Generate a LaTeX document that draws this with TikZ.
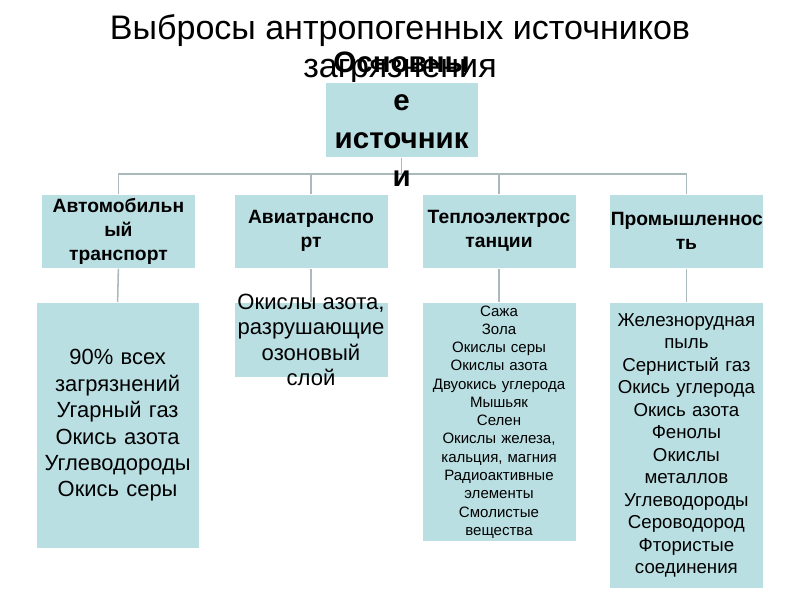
\documentclass[tikz,border=0pt]{standalone}
\usepackage{fontspec}
\setmainfont{Liberation Sans}
\usetikzlibrary{positioning}
\definecolor{boxfill}{HTML}{BADFE3}
\definecolor{linkcol}{HTML}{AABABC}
\begin{document}
\begin{tikzpicture}[
  box/.style={fill=boxfill, draw=white, line width=0.6pt, inner sep=1pt, align=center},
  head/.style={box, text width=3.78cm, minimum width=3.825cm, minimum height=1.85cm, font=\bfseries\fontsize{13.7}{17}\selectfont},
  list/.style={box, text width=3.78cm, anchor=north, font=\fontsize{15.6}{18.8}\selectfont},
  link/.style={draw=linkcol, line width=1.1pt}
]
\useasboundingbox (0,0) rectangle (20,15);

\node[align=center, inner sep=0pt, anchor=north, font=\fontsize{24.2}{27}\selectfont] (title) at (10,14.65) {Выбросы антропогенных источников\\загрязнения};

% main source
\node[box, minimum width=3.825cm, minimum height=1.875cm] (src) at (10.04,12.01) {};
\coordinate (bus) at (src.south |- 0,10.65);

% groups
\node[head] (h1) at (2.96,9.22) {Автомобильн\\ый\\транспорт};
\node[head] (h2) at (7.775,9.22) {Авиатранспо\\рт};
\node[head] (h3) at (12.475,9.22) {Теплоэлектрос\\танции};
\node[head] (h4) at (17.16,9.22) {Промышленнос\\ть};

% what each group gives off
\node[list, minimum width=4.075cm, minimum height=6.15cm] (c1) at (2.94,7.45)
  {90\% всех\\загрязнений\\Угарный газ\\Окись азота\\Углеводороды\\Окись серы};
\node[box, anchor=north, minimum width=3.85cm, minimum height=1.875cm] (c2) at (7.775,7.45) {};
\node[list, minimum width=3.85cm, minimum height=5.975cm, font=\fontsize{10.7}{13}\selectfont] (c3) at (12.475,7.45)
  {Сажа\\Зола\\Окислы серы\\Окислы азота\\Двуокись углерода\\Мышьяк\\Селен\\Окислы железа,\\кальция, магния\\Радиоактивные\\элементы\\Смолистые\\вещества};
\node[list, minimum width=3.825cm, minimum height=7.15cm, font=\fontsize{13.3}{16}\selectfont] (c4) at (17.16,7.45)
  {Железнорудная\\пыль\\Сернистый газ\\Окись углерода\\Окись азота\\Фенолы\\Окислы\\металлов\\Углеводороды\\Сероводород\\Фтористые\\соединения\\[0.5cm]};

\draw[link] (src.south) -- (bus);
\draw[link] (h1.north) |- (bus) -| (h4.north);
\foreach \n in {h2,h3}
  \draw[link] (\n.north) -- (\n.north |- bus);
\foreach \n in {1,...,4}
  \draw[link] (h\n.south) -- (c\n.north);

\node[align=center, font=\fontsize{15.7}{18.1}\selectfont] (c2text) at (c2) {Окислы азота,\\разрушающие\\озоновый\\слой};
\node[align=center, font=\bfseries\fontsize{21}{27}\selectfont] (srctext) at (src) {Основны\\е\\источник\\и};
\end{tikzpicture}
\end{document}
